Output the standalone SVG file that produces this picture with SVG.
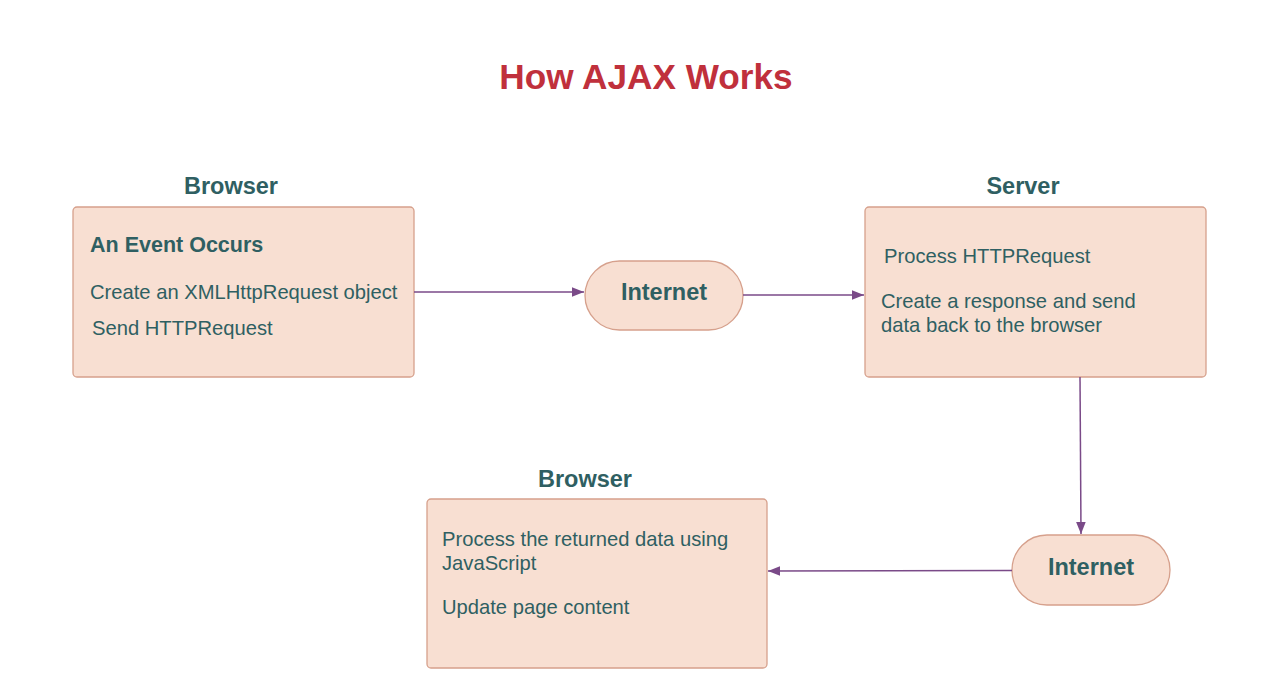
<svg xmlns="http://www.w3.org/2000/svg" width="1280" height="694" viewBox="0 0 1280 694">
<style>
.box{fill:#f8dfd2;stroke:#d6a08c;stroke-width:1.3}
.t{font-family:"Liberation Sans",Arial,sans-serif;fill:#2f5f62}
.b{font-weight:bold}
.n{font-size:20.2px}
.h{font-size:23.5px;font-weight:bold;text-anchor:middle}
.c{stroke:#7a4a88;stroke-width:1.5;fill:none;marker-end:url(#ah)}
</style>
<defs>
<marker id="ah" viewBox="0 0 10 10" refX="10" refY="5" markerWidth="12" markerHeight="12" markerUnits="userSpaceOnUse" orient="auto">
<path d="M0,1 L10,5 L0,9 Z" fill="#7a4a88"/>
</marker>
</defs>
<rect width="1280" height="694" fill="#ffffff"/>
<text x="646" y="89" text-anchor="middle" font-family="Liberation Sans,Arial,sans-serif" font-weight="bold" font-size="35.2" fill="#c0303c">How AJAX Works</text>

<g id="browser1">
<text class="t h" x="231" y="194">Browser</text>
<rect class="box" x="73" y="207" width="341" height="170" rx="4"/>
<text class="t b" x="90" y="252" font-size="21.5">An Event Occurs</text>
<text class="t n" x="90" y="299">Create an XMLHttpRequest object</text>
<text class="t n" x="92" y="335">Send HTTPRequest</text>
</g>

<g id="internet1">
<rect class="box" x="585" y="261" width="158" height="69" rx="34.5"/>
<text class="t h" x="664" y="300">Internet</text>
</g>

<g id="server">
<text class="t h" x="1023" y="194">Server</text>
<rect class="box" x="865" y="207" width="341" height="170" rx="4"/>
<text class="t n" x="884" y="263">Process HTTPRequest</text>
<text class="t n" x="881" y="308">Create a response and send</text>
<text class="t n" x="881" y="332">data back to the browser</text>
</g>

<g id="internet2">
<rect class="box" x="1012" y="535" width="158" height="70" rx="35"/>
<text class="t h" x="1091" y="575">Internet</text>
</g>

<g id="browser2">
<text class="t h" x="585" y="487">Browser</text>
<rect class="box" x="427" y="499" width="340" height="169" rx="4"/>
<text class="t n" x="442" y="546">Process the returned data using</text>
<text class="t n" x="442" y="570">JavaScript</text>
<text class="t n" x="442" y="614">Update page content</text>
</g>

<g id="connectors">
<path class="c" d="M414,292 L584,292"/>
<path class="c" d="M743,295 L864,295"/>
<path class="c" d="M1080,377 L1081,534"/>
<path class="c" d="M1012,570.5 L768,571"/>
</g>
</svg>
